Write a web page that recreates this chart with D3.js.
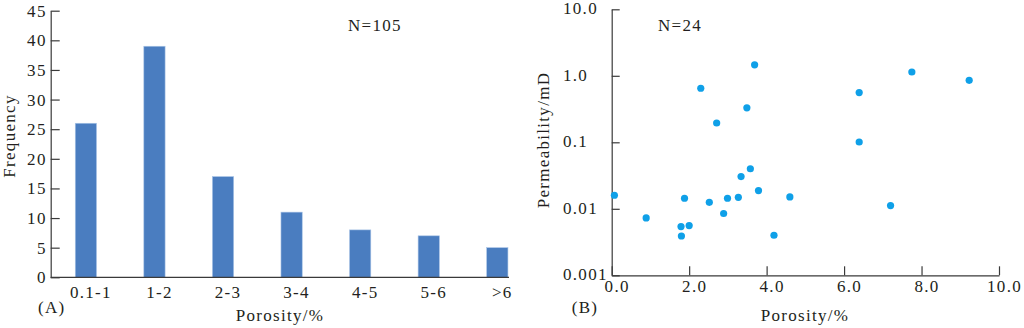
<!DOCTYPE html>
<html>
<head>
<meta charset="utf-8">
<script src="https://cdn.jsdelivr.net/npm/d3@7"></script>
<style>
  body { margin: 0; background: #fff; }
  svg text { font-family: "Liberation Serif", "Times New Roman", serif; font-size: 17px; fill: #231f20; letter-spacing: 1.3px; }
  .axis path, .axis line { stroke: #3a3a3a; stroke-width: 1.2; }
</style>
</head>
<body>
<div id="chart"></div>
<script>
// panel A - porosity histogram
var porosityBins = ["0.1-1", "1-2", "2-3", "3-4", "4-5", "5-6", ">6"];
var binCounts = [26, 39, 17, 11, 8, 7, 5];
var countTicks = [0, 5, 10, 15, 20, 25, 30, 35, 40, 45];

// panel B - porosity vs permeability
var porosity = [0.07, 0.89, 1.79, 1.80, 2.00, 1.88, 2.30, 2.52, 2.71, 2.89, 2.99, 3.27,
                3.34, 3.49, 3.58, 3.69, 3.79, 4.19, 4.60, 6.39, 6.39, 7.20, 7.75, 9.23];
var permeability = [0.016, 0.0073, 0.0054, 0.0039, 0.0056, 0.0144, 0.65, 0.0125, 0.195, 0.0085, 0.0144, 0.0149,
                    0.0305, 0.33, 0.040, 1.46, 0.0188, 0.0040, 0.0151, 0.56, 0.101, 0.0112, 1.14, 0.855];
var porosityTicks = [0, 2, 4, 6, 8, 10];
var permTicks = [0.001, 0.01, 0.1, 1, 10];
var permTickLabels = ["0.001", "0.01", "0.1", "1.0", "10.0"];

var svg = d3.select("#chart").append("svg")
    .attr("width", 1024)
    .attr("height", 328);

// ---------- (A) ----------
var x = d3.scaleBand()
    .domain(porosityBins)
    .range([51.6, 531.6]);

var y = d3.scaleLinear()
    .domain([0, 45])
    .range([277.3, 10.7]);

svg.selectAll("rect.bar")
    .data(binCounts)
    .enter().append("rect")
    .attr("class", "bar")
    .attr("x", function(d, i) { return x(porosityBins[i]) + x.bandwidth() * 0.345; })
    .attr("width", x.bandwidth() * 0.31)
    .attr("y", function(d) { return y(d); })
    .attr("height", function(d) { return y(0) - y(d); })
    .attr("fill", "#4a7dc0")
    .attr("stroke", "#a9c4e6")
    .attr("stroke-width", 0.6);

var yAxisA = svg.append("g")
    .attr("class", "axis")
    .attr("transform", "translate(50.7,0)")
    .call(d3.axisLeft(y).tickValues(countTicks).tickSizeInner(-9).tickSizeOuter(0).tickPadding(4));
yAxisA.selectAll("text").attr("font-size", null).attr("font-family", null);

var xAxisA = svg.append("g")
    .attr("class", "axis")
    .attr("transform", "translate(0," + y(0) + ")")
    .call(d3.axisBottom(x).tickSize(0).tickPadding(8.6));
xAxisA.select(".domain").remove();
xAxisA.selectAll("text").attr("font-size", null).attr("font-family", null).attr("dx", 5);
svg.append("line")
    .attr("x1", 50.7).attr("x2", 509)
    .attr("y1", y(0)).attr("y2", y(0))
    .attr("stroke", "#3a3a3a").attr("stroke-width", 1.2);

svg.append("text").attr("x", 348).attr("y", 30.7).text("N=105");
svg.append("text").attr("x", 38).attr("y", 313).text("(A)");
svg.append("text").attr("x", 280).attr("y", 321).attr("text-anchor", "middle").text("Porosity/%");
svg.append("text")
    .attr("transform", "translate(14.5,136) rotate(-90)")
    .attr("text-anchor", "middle")
    .text("Frequency");

// ---------- (B) ----------
var x2 = d3.scaleLinear()
    .domain([0, 10])
    .range([611.7, 999]);

var y2 = d3.scaleLog()
    .domain([0.001, 10])
    .range([275.3, 9.3]);

var yAxisB = svg.append("g")
    .attr("class", "axis")
    .attr("transform", "translate(611.7,0)")
    .call(d3.axisLeft(y2).tickValues(permTicks)
        .tickFormat(function(d, i) { return permTickLabels[i]; })
        .tickSizeInner(-8).tickSizeOuter(0));
yAxisB.selectAll("text")
    .attr("font-size", null).attr("font-family", null)
    .attr("text-anchor", "start")
    .attr("x", -48.7)
    .attr("dy", "0.26em");

var xAxisB = svg.append("g")
    .attr("class", "axis")
    .attr("transform", "translate(0," + y2(0.001) + ")")
    .call(d3.axisBottom(x2).tickValues(porosityTicks).tickFormat(d3.format(".1f"))
        .tickSizeInner(-9).tickSizeOuter(0).tickPadding(5.1));
xAxisB.selectAll("text").attr("font-size", null).attr("font-family", null).attr("dx", 5);

svg.selectAll("circle.pt")
    .data(porosity)
    .enter().append("circle")
    .attr("class", "pt")
    .attr("cx", function(d) { return x2(d); })
    .attr("cy", function(d, i) { return y2(permeability[i]); })
    .attr("r", 3.6)
    .attr("fill", "#0fa0e8");

svg.append("text").attr("x", 658).attr("y", 30.7).text("N=24");
svg.append("text").attr("x", 571.7).attr("y", 313).text("(B)");
svg.append("text").attr("x", 805).attr("y", 321).attr("text-anchor", "middle").text("Porosity/%");
svg.append("text")
    .attr("transform", "translate(549,140) rotate(-90)")
    .attr("text-anchor", "middle")
    .text("Permeability/mD");
</script>
</body>
</html>
